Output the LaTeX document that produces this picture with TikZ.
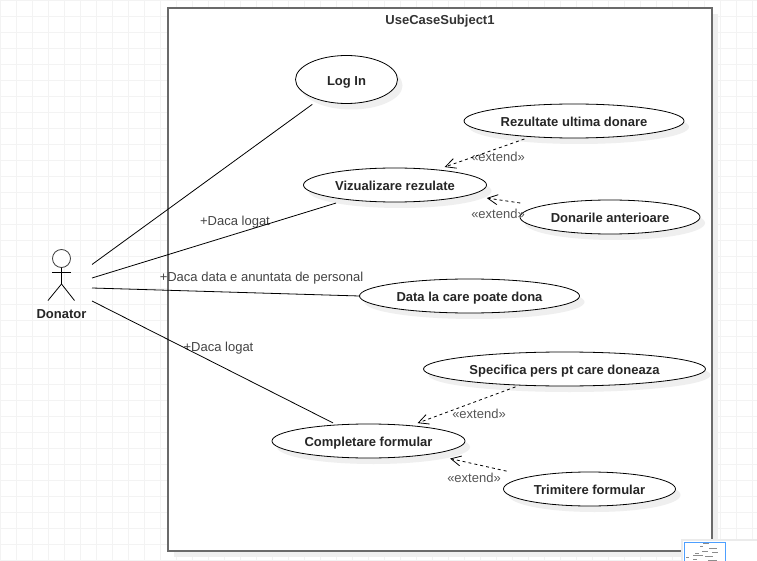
\documentclass[tikz,border=0pt]{standalone}
\usepackage{fontspec}
\setmainfont{Liberation Sans}
\usetikzlibrary{shapes.geometric,arrows.meta,shadows}
\definecolor{gridc}{HTML}{F3F3F3}
\definecolor{shadc}{HTML}{EFEFEF}
\definecolor{sysc}{HTML}{6A6A6A}
\definecolor{labc}{HTML}{444444}
\definecolor{extc}{HTML}{555555}
\definecolor{miniblue}{HTML}{4D9FFF}
\tikzset{
  usecase/.style={ellipse,draw=black,line width=0.8pt,fill=white,inner sep=0pt,outer sep=0pt,
    font=\fontsize{13}{15}\selectfont\bfseries,text=black!85,text height=11.5pt,text depth=0pt,
    drop shadow={shadow xshift=5pt,shadow yshift=-6pt,fill=shadc,opacity=1}},
  assoc/.style={draw=black,line width=0.8pt},
  extendline/.style={draw=black,line width=0.8pt,dash pattern=on 3pt off 3pt,
    -{Straight Barb[length=10pt,width=10pt,line width=0.8pt]}},
  txtlabel/.style={font=\fontsize{13}{15}\selectfont,text=labc,inner sep=0pt},
  extlabel/.style={font=\fontsize{13}{15}\selectfont,text=extc,inner sep=0pt},
  actorline/.style={draw=black,line width=0.8pt},
  minimark/.style={draw=black!45,line width=0.5pt}
}
\begin{document}
\begin{tikzpicture}[x=1pt,y=-1pt]
\useasboundingbox (0,0) rectangle (757,561);
\fill[white] (0,0) rectangle (757,561);
% grid
\foreach \gx in {0,16,...,752} \draw[gridc,line width=0.9pt] (\gx+0.5,0) -- (\gx+0.5,561);
\foreach \gy in {0,16,...,560} \draw[gridc,line width=0.9pt] (0,\gy+0.5) -- (757,\gy+0.5);
% system
\fill[shadc] (174,14) rectangle (718,557);
\node[draw=sysc,line width=1.3pt,fill=white,outer sep=0pt,minimum width=544pt,minimum height=543pt,inner sep=0pt,anchor=north west] (system) at (168,8) {};
\node[inner sep=0pt,font=\fontsize{13}{15}\selectfont\bfseries,text=black!80] (title) at (440,21) {UseCaseSubject1};
% use cases
\node[usecase,text height=13pt,minimum width=102pt,minimum height=48pt] (login) at (346.5,79.5) {Log In};
\node[usecase,minimum width=183pt,minimum height=34pt] (viz) at (395,185) {Vizualizare rezulate};
\node[usecase,minimum width=220pt,minimum height=34pt] (rez) at (574,121) {Rezultate ultima donare};
\node[usecase,minimum width=180pt,minimum height=34pt] (don) at (610,217) {Donarile anterioare};
\node[usecase,minimum width=220pt,minimum height=34pt] (data) at (469.5,296) {Data la care poate dona};
\node[usecase,minimum width=282pt,minimum height=34pt] (spec) at (564.5,369) {Specifica pers pt care doneaza};
\node[usecase,minimum width=193pt,minimum height=34pt] (comp) at (368.5,441) {Completare formular};
\node[usecase,minimum width=172pt,minimum height=34pt] (trim) at (589.5,489) {Trimitere formular};
% actor
\node[circle,draw=black!75,line width=0.8pt,fill=white,minimum size=18pt,inner sep=0pt,outer sep=0pt] (head) at (61.5,258.5) {};
\coordinate (hip) at (61.5,284);
\coordinate (armL) at (52,272.5);
\coordinate (armR) at (71,272.5);
\coordinate (footL) at (48,300.5);
\coordinate (footR) at (74.5,300.5);
\draw[actorline] (head.south) -- (hip) -- (footL);
\draw[actorline] (hip) -- (footR);
\draw[actorline] (armL) -- (armR);
\node[inner sep=0pt,font=\fontsize{13}{15}\selectfont\bfseries,text=black!85] (donator) at (61.5,314.5) {Donator};
\coordinate (a1) at (92,264.5);
\coordinate (a2) at (92,278);
\coordinate (a3) at (92,288);
\coordinate (a4) at (92,301);
% labels
\node[txtlabel] (l1) at (235,222.5) {+Daca logat};
\node[txtlabel] (l2) at (261.5,278.5) {+Daca data e anuntata de personal};
\node[txtlabel] (l3) at (218.5,348.5) {+Daca logat};
\node[extlabel] (e1) at (498,157) {«extend»};
\node[extlabel] (e2) at (498,214) {«extend»};
\node[extlabel] (e3) at (479,414) {«extend»};
\node[extlabel] (e4) at (474,478) {«extend»};
% associations
\draw[assoc,shorten >=8pt] (a1) -- (login.216);
\draw[assoc,shorten >=12pt] (a2) -- (viz.197);
\draw[assoc] (a3) -- (data.west);
\draw[assoc,shorten >=4.5pt] (a4) -- (comp.153);
% extends
\draw[extendline,shorten <=7pt,shorten >=8.5pt] (rez.200) -- (viz.20);
\draw[extendline,shorten <=21pt,shorten >=19pt] (don.171) -- (viz.-8);
\draw[extendline,shorten <=5pt,shorten >=7.5pt] (spec.200) -- (comp.20);
\draw[extendline,shorten <=25pt,shorten >=20.5pt] (trim.168) -- (comp.-12);
% overview panel
\fill[black!8] (681,539) rectangle (757,561);
\fill[white] (683,541) rectangle (757,561);
\node[draw=miniblue,line width=1pt,fill=white,outer sep=0pt,minimum width=41pt,minimum height=25pt,inner sep=0pt,anchor=north west] (mini) at (684.5,542.5) {};
\draw[minimark] (703,543.5) -- (709,543.5);
\draw[minimark] (700,546.5) -- (703,546.5);
\draw[minimark] (709,548.5) -- (717,548.5);
\draw[minimark] (702,551.5) -- (708,551.5);
\draw[minimark] (712,552.5) -- (718,552.5);
\draw[minimark] (695,553.5) -- (699,553.5);
\draw[minimark] (693,555.5) -- (703,555.5);
\draw[minimark] (705,556.5) -- (713,556.5);
\draw[minimark] (686,557.5) -- (689,557.5);
\draw[minimark] (693,559.5) -- (697,559.5);
\draw[minimark] (708,560.5) -- (717,560.5);
\end{tikzpicture}
\end{document}
